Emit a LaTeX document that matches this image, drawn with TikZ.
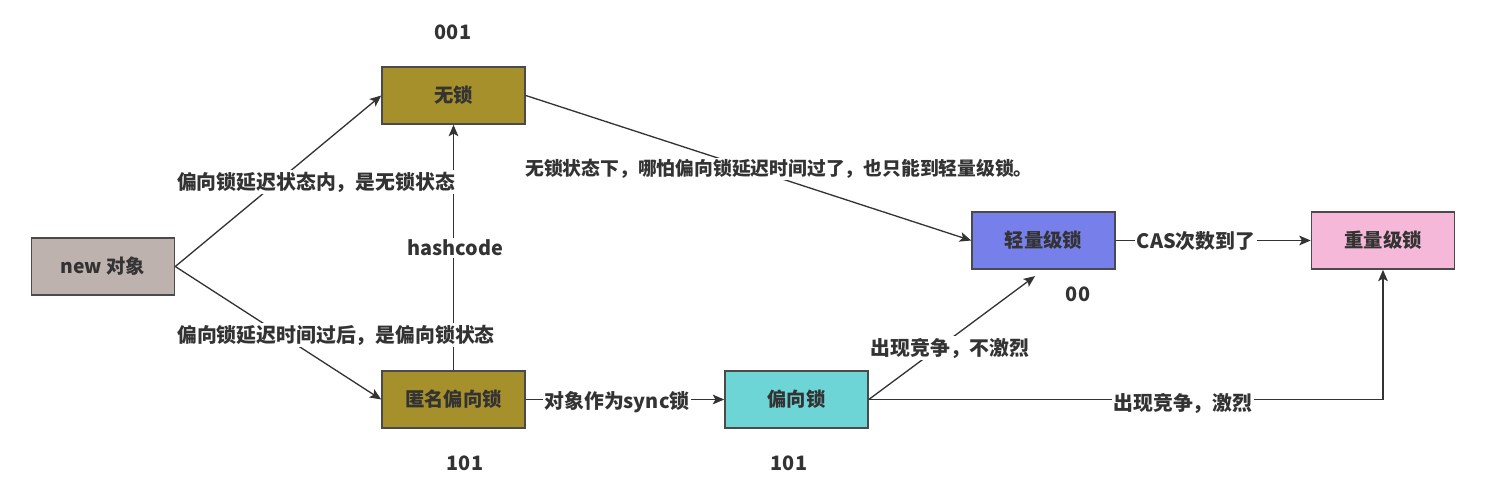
\documentclass[tikz,border=0pt]{standalone}
\usepackage{fontspec}
\setmainfont{Noto Sans CJK SC}
\usetikzlibrary{arrows.meta}
\definecolor{txt}{HTML}{333333}
\definecolor{edge}{HTML}{4A4A4A}
\definecolor{cnew}{HTML}{BEB2AE}
\definecolor{colive}{HTML}{A6902C}
\definecolor{ccyan}{HTML}{6ED5D6}
\definecolor{cblue}{HTML}{7780EA}
\definecolor{cpink}{HTML}{F5B8D9}
\tikzset{
  box/.style={draw=edge, line width=0.9pt, minimum width=143*0.02cm, minimum height=57*0.02cm, inner sep=0pt, text=txt, font=\fontsize{11pt}{13pt}\selectfont\bfseries},
  lbl/.style={fill=white, text=txt, inner sep=1pt, font=\fontsize{11.3pt}{13pt}\selectfont\bfseries},
  num/.style={text=txt, inner sep=0pt, font=\fontsize{11.3pt}{13pt}\selectfont\bfseries},
  arr/.style={draw=txt, line width=0.75pt, -{Stealth[length=6.5pt, width=5.5pt, inset=1.5pt]}}
}
\begin{document}
\begin{tikzpicture}[x=0.02cm, y=-0.02cm]
\useasboundingbox (0,0) rectangle (1487,490);
\node[box, fill=cnew] (new) at (103,266.5) {new 对象};
\node[box, fill=colive] (wusuo) at (453.5,95.5) {无锁};
\node[box, fill=colive] (niming) at (453.5,399.5) {匿名偏向锁};
\node[box, fill=ccyan] (pian) at (796.5,399.5) {偏向锁};
\node[box, fill=cblue] (qing) at (1043.5,240.5) {轻量级锁};
\node[box, fill=cpink] (zhong) at (1383,240.5) {重量级锁};

\node[num] (n1) at (453,32) {001};
\node[num] (n2) at (465,463) {101};
\node[num] (n3) at (789,463) {101};
\node[num] (n4) at (1078,294) {00};

\draw[arr] (niming.north) -- (wusuo.south);
\node[lbl] (l3) at (455,248) {hashcode};

\draw[arr] (new.east) -- (wusuo.west);
\node[lbl] (l1) at (316,182) {偏向锁延迟状态内，是无锁状态};
\draw[arr] (new.east) -- (niming.west);
\node[lbl] (l2) at (336,335) {偏向锁延迟时间过后，是偏向锁状态};

\draw[arr] (wusuo.east) -- (qing.west);
\node[lbl, font=\fontsize{10.7pt}{13pt}\selectfont\bfseries] (l4) at (779,169) {无锁状态下，哪怕偏向锁延迟时间过了，也只能到轻量级锁。};

\draw[arr] (qing.east) -- (zhong.west);
\node[lbl] (l5) at (1196,241) {CAS次数到了};

\draw[arr] (niming.east) -- (pian.west);
\node[lbl] (l6) at (617,402) {对象作为sync锁};

\draw[arr, shorten >=6pt] (pian.east) -- (qing.south);
\node[lbl] (l7) at (950,348) {出现竞争，不激烈};

\draw[arr] (pian.east) -| (zhong.south);
\node[lbl] (l8) at (1183,403) {出现竞争，激烈};
\end{tikzpicture}
\end{document}
